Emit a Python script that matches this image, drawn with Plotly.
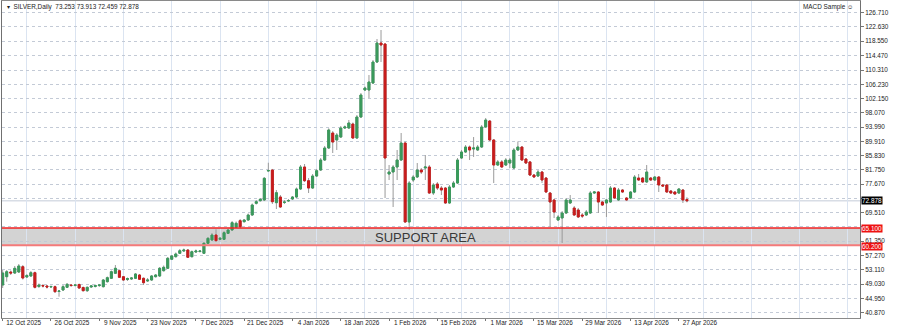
import numpy as np
import plotly.graph_objects as go

# ---------------- data ----------------
date_labels = ["12 Oct 2025", "26 Oct 2025", "9 Nov 2025", "23 Nov 2025", "7 Dec 2025",
               "21 Dec 2025", "4 Jan 2026", "18 Jan 2026", "1 Feb 2026", "15 Feb 2026",
               "1 Mar 2026", "15 Mar 2026", "29 Mar 2026", "13 Apr 2026", "27 Apr 2026"]
bars_per_label = 12

price_ticks = [126.710, 122.630, 118.550, 114.470, 110.310, 106.230, 102.150, 98.070,
               93.990, 89.910, 85.830, 81.750, 77.670, 73.590, 69.510, 65.430, 61.350,
               57.270, 53.110, 49.030, 44.950, 40.870]
price_tick_text = ["126.710", "122.630", "118.550", "114.470", "110.310", "106.230",
                   "102.150", "98.070", "93.990", "89.910", "85.830", "81.750", "77.670",
                   "", "69.510", "", "61.350", "57.270", "53.110", "49.030", "44.950", "40.870"]

support_high = 65.100
support_low = 60.200

opens = [48.80, 51.18, 52.52, 52.23, 52.52, 54.04, 51.09, 51.38, 52.32, 48.37,
         48.66, 48.52, 48.23, 48.32, 46.94, 47.37, 48.14, 48.80, 48.66, 48.94,
         48.09, 47.17, 48.23, 48.37, 48.66, 48.32, 49.75, 50.72, 52.15, 52.89,
         51.18, 50.37, 50.52, 50.72, 51.66, 50.72, 49.95, 50.23, 51.18, 51.38,
         52.89, 53.58, 56.16, 56.90, 57.87, 58.53, 58.81, 56.90, 58.24, 58.38,
         57.87, 60.73, 61.68, 63.11, 61.88, 61.88, 63.59, 64.54, 65.31, 67.20,
         66.91, 67.40, 68.83, 72.17, 72.92, 73.12, 81.42, 81.70, 72.35, 73.98,
         72.40, 72.83, 73.41, 73.98, 76.27, 82.56, 78.64, 76.55, 79.98, 81.70,
         84.56, 88.00, 92.29, 90.29, 91.14, 93.72, 93.72, 94.86, 90.86, 96.87,
         104.59, 104.59, 106.59, 112.60, 118.04, 117.75, 80.56, 81.13, 82.56, 84.56,
         89.43, 66.83, 78.84, 79.70, 81.70, 82.27, 82.56, 75.12, 77.70, 76.55,
         76.55, 72.26, 76.84, 77.98, 85.14, 86.85, 88.28, 87.71, 87.43, 88.28,
         94.01, 95.72, 90.29, 83.13, 84.01, 83.13, 83.70, 82.27, 87.43, 88.28,
         84.85, 84.01, 80.27, 79.98, 81.13, 79.41, 75.12, 73.12, 67.40, 67.97,
         69.40, 72.26, 70.83, 70.26, 68.83, 68.83, 69.40, 75.12, 75.41, 72.55,
         72.26, 72.55, 76.55, 73.12, 75.98, 73.69, 73.69, 75.41, 79.41, 79.41,
         78.27, 79.41, 78.84, 79.70, 77.41, 77.41, 75.69, 75.41, 75.12, 75.98,
         73.253]
highs = [53.09, 53.09, 52.95, 54.24, 54.81, 54.52, 51.95, 52.81, 52.66, 49.23,
         49.09, 48.80, 48.66, 48.66, 47.37, 48.80, 49.37, 49.09, 49.09, 49.23,
         48.37, 48.37, 48.80, 48.94, 49.09, 50.52, 51.23, 52.95, 54.52, 53.23,
         51.38, 50.95, 51.09, 52.23, 51.95, 50.95, 50.80, 51.66, 51.95, 53.95,
         54.38, 56.81, 57.38, 58.10, 59.10, 59.24, 59.10, 58.67, 58.96, 58.81,
         61.10, 62.53, 63.68, 64.74, 62.53, 64.25, 64.82, 67.11, 66.97, 67.68,
         67.68, 69.26, 72.12, 73.12, 73.69, 79.70, 83.79, 82.01, 75.98, 74.55,
         73.12, 73.41, 74.26, 76.70, 83.13, 83.42, 79.41, 80.56, 82.01, 85.14,
         88.57, 93.63, 92.86, 92.29, 94.29, 94.43, 96.01, 95.29, 97.44, 103.73,
         105.59, 108.88, 113.17, 119.18, 121.76, 118.04, 83.13, 83.13, 87.43, 92.29,
         89.86, 78.55, 80.27, 83.70, 82.27, 85.99, 83.13, 77.98, 78.27, 77.13,
         76.84, 77.41, 78.55, 85.14, 87.43, 88.86, 88.71, 91.14, 88.86, 94.58,
         96.58, 96.01, 90.57, 84.56, 84.56, 85.14, 85.14, 88.00, 89.86, 88.57,
         85.14, 84.28, 80.56, 81.70, 81.42, 79.70, 75.41, 73.41, 68.83, 69.97,
         73.69, 74.55, 71.40, 70.83, 69.40, 70.26, 75.69, 75.69, 75.69, 72.83,
         73.41, 77.13, 76.84, 76.55, 76.27, 73.98, 75.69, 80.27, 80.56, 79.70,
         83.13, 79.70, 79.98, 79.98, 77.70, 77.70, 75.98, 75.69, 76.55, 76.27,
         73.913]
lows = [47.94, 49.75, 51.66, 51.95, 52.23, 50.37, 50.80, 51.09, 47.80, 47.94,
        48.09, 47.80, 47.94, 46.51, 45.46, 47.08, 47.94, 48.23, 48.37, 47.66,
        46.94, 46.80, 47.94, 48.09, 48.23, 48.09, 49.52, 50.52, 51.95, 50.80,
        49.95, 49.95, 50.23, 50.52, 50.23, 48.80, 49.66, 49.95, 50.95, 51.09,
        52.66, 53.38, 55.95, 56.67, 57.67, 58.24, 56.53, 56.67, 57.96, 58.10,
        57.67, 60.53, 61.39, 61.25, 61.53, 61.68, 63.39, 64.25, 65.11, 65.11,
        66.68, 67.11, 68.54, 71.83, 72.69, 72.83, 81.13, 71.98, 70.54, 70.83,
        71.98, 72.55, 73.12, 73.69, 75.98, 78.27, 75.12, 76.27, 79.70, 81.42,
        84.28, 87.71, 86.57, 87.43, 90.86, 93.43, 93.43, 90.57, 90.57, 96.58,
        104.30, 102.30, 106.31, 112.32, 112.60, 73.69, 78.84, 71.12, 78.84, 84.28,
        66.54, 64.54, 78.27, 79.41, 80.56, 78.84, 74.84, 74.55, 75.98, 74.55,
        71.98, 71.98, 76.55, 77.70, 84.85, 86.57, 84.56, 85.42, 87.14, 88.00,
        93.72, 90.00, 77.98, 82.85, 82.27, 82.85, 82.27, 81.99, 87.14, 84.28,
        83.42, 79.98, 79.41, 79.70, 77.98, 75.12, 65.40, 67.97, 67.11, 60.82,
        69.12, 71.98, 68.54, 67.97, 67.97, 68.54, 69.12, 74.84, 69.40, 71.40,
        68.26, 72.26, 73.41, 72.83, 75.12, 72.83, 73.41, 75.12, 78.55, 77.98,
        77.98, 78.55, 78.55, 75.41, 76.84, 75.12, 74.84, 74.55, 74.84, 72.26,
        72.459]
closes = [52.23, 52.61, 52.23, 53.58, 54.24, 50.80, 51.52, 52.32, 48.14, 48.80,
          48.52, 48.23, 48.37, 46.89, 47.08, 48.32, 49.00, 48.66, 48.80, 47.94,
          47.17, 48.14, 48.52, 48.66, 48.80, 50.23, 50.89, 52.61, 53.58, 51.00,
          50.23, 50.66, 50.80, 51.95, 50.43, 49.46, 50.23, 51.38, 51.66, 53.58,
          53.87, 56.44, 57.10, 57.67, 58.61, 58.81, 56.73, 58.33, 58.53, 58.53,
          60.73, 62.16, 63.11, 61.48, 62.16, 63.77, 64.54, 66.63, 66.46, 65.48,
          67.40, 68.83, 71.69, 72.63, 73.32, 79.33, 81.56, 72.63, 75.21, 71.12,
          72.55, 72.98, 73.98, 76.27, 82.56, 78.64, 76.55, 79.98, 81.50, 84.56,
          88.00, 93.15, 89.71, 91.72, 93.72, 94.01, 95.15, 90.86, 96.87, 103.16,
          105.16, 106.88, 112.60, 118.04, 117.47, 85.14, 81.13, 82.56, 84.56, 89.43,
          66.83, 77.98, 79.70, 81.70, 81.13, 82.56, 75.12, 77.41, 76.55, 75.98,
          72.26, 76.84, 77.98, 84.56, 86.85, 88.28, 87.43, 88.00, 88.28, 94.01,
          96.01, 90.29, 83.13, 84.01, 82.56, 84.56, 84.56, 87.43, 88.28, 84.56,
          83.70, 80.27, 79.70, 81.13, 78.84, 75.41, 72.55, 69.69, 68.26, 69.40,
          73.12, 73.12, 68.83, 68.26, 68.54, 69.69, 75.12, 75.41, 72.55, 71.69,
          73.12, 76.55, 73.69, 75.98, 75.41, 73.12, 75.41, 79.70, 78.84, 78.27,
          81.13, 78.84, 79.70, 77.41, 77.13, 75.41, 75.12, 74.84, 76.27, 73.12,
          72.878]

# ---------------- styling ----------------
GREEN = "#3a9a5c"
RED = "#c81c1c"
WICK = "#9a9a9a"
FONT = "Liberation Sans, Arial, sans-serif"

n = len(opens)
idx = list(range(n))
o = np.array(opens)
c = np.array(closes)
body_top = np.maximum(o, c)
body_bot = np.minimum(o, c)

x_range = [-0.17, 213.0]
y_range = [39.36, 130.06]

fig = go.Figure()
# wicks (full high-low range, grey)
fig.add_trace(go.Candlestick(
    x=idx, open=opens, high=highs, low=lows, close=closes,
    increasing=dict(line=dict(color=WICK, width=1), fillcolor=WICK),
    decreasing=dict(line=dict(color=WICK, width=1), fillcolor=WICK),
    whiskerwidth=0, showlegend=False, hoverinfo="skip"))
# coloured bodies on top
fig.add_trace(go.Candlestick(
    x=idx, open=opens, high=body_top, low=body_bot, close=closes,
    increasing=dict(line=dict(color=GREEN, width=1), fillcolor=GREEN),
    decreasing=dict(line=dict(color=RED, width=1), fillcolor=RED),
    whiskerwidth=0, showlegend=False, hoverinfo="skip"))

shapes = [
    dict(type="rect", xref="x", yref="y", x0=x_range[0], x1=x_range[1],
         y0=support_low, y1=support_high, fillcolor="#d3d3d3",
         line=dict(width=0), layer="below"),
    dict(type="line", xref="x", yref="y", x0=x_range[0], x1=x_range[1],
         y0=closes[-1], y1=closes[-1], line=dict(color="#c4ccd8", width=1),
         layer="below"),
    dict(type="line", xref="x", yref="y", x0=x_range[0], x1=x_range[1],
         y0=support_high, y1=support_high, line=dict(color="#f02020", width=1.5)),
    dict(type="line", xref="x", yref="y", x0=x_range[0], x1=x_range[1],
         y0=support_low, y1=support_low, line=dict(color="#f47a7a", width=2)),
]

title_text = "\u25be  SILVER,Daily  %.3f %.3f %.3f %.3f" % (opens[-1], highs[-1], lows[-1], closes[-1])

annotations = [
    dict(text=title_text, xref="paper", yref="paper", x=0, y=1, xanchor="left",
         yanchor="top", xshift=3, yshift=0, showarrow=False,
         font=dict(family=FONT, size=6.4, color="#222")),
    dict(text="MACD Sample \u263a", xref="paper", yref="paper", x=1, y=1,
         xanchor="right", yanchor="top", xshift=-4, showarrow=False,
         font=dict(family=FONT, size=6.4, color="#222")),
    dict(text="SUPPORT AREA", xref="x", yref="y", x=105,
         y=(support_high + support_low) / 2, yshift=-1, showarrow=False,
         font=dict(family=FONT, size=13, color="#3a3a3a")),
    dict(text="%.3f" % closes[-1], xref="paper", yref="y", x=1, y=closes[-1],
         xanchor="left", xshift=1, showarrow=False, bgcolor="#000000",
         borderpad=0, font=dict(family=FONT, size=6.4, color="#ffffff")),
    dict(text="%.3f" % support_high, xref="paper", yref="y", x=1, y=support_high,
         xanchor="left", xshift=1, showarrow=False, bgcolor="#ee1111",
         borderpad=0, font=dict(family=FONT, size=6.4, color="#ffffff")),
    dict(text="%.3f" % support_low, xref="paper", yref="y", x=1, y=support_low,
         xanchor="left", xshift=1, yshift=-1, showarrow=False, bgcolor="#ee1111",
         borderpad=0, font=dict(family=FONT, size=6.4, color="#ffffff")),
]

fig.update_layout(
    width=900, height=326,
    margin=dict(l=2, r=40, t=1, b=8, autoexpand=False),
    paper_bgcolor="white", plot_bgcolor="white",
    showlegend=False,
    font=dict(family=FONT, size=6.4, color="#222"),
    shapes=shapes, annotations=annotations,
)

fig.update_xaxes(
    range=x_range, tickmode="array", automargin=False,
    tickvals=[bars_per_label * k for k in range(len(date_labels))],
    ticktext=date_labels, ticks="outside", ticklen=2, tickcolor="#777",
    ticklabelshift=21, ticklabelstandoff=-4,
    showgrid=False, zeroline=False,
    showline=True, linecolor="#8a8a8a", linewidth=1, mirror=True,
    rangeslider=dict(visible=False),
    minor=dict(tickmode="array",
               tickvals=list(range(bars_per_label // 2, 214, bars_per_label)),
               showgrid=True, gridcolor="#dbe4f1", gridwidth=1, griddash="solid",
               ticks=""),
    tickfont=dict(family=FONT, size=6.4, color="#222"),
)
fig.update_yaxes(
    side="right", range=y_range, tickmode="array", automargin=False,
    tickvals=price_ticks, ticktext=price_tick_text,
    ticks="outside", ticklen=3, tickcolor="#777",
    showgrid=True, gridcolor="#c3cad6", griddash="dot", gridwidth=1,
    zeroline=False, showline=True, linecolor="#707070", linewidth=1, mirror=True,
    tickfont=dict(family=FONT, size=6.4, color="#222"),
)

fig.write_html("out.html")
